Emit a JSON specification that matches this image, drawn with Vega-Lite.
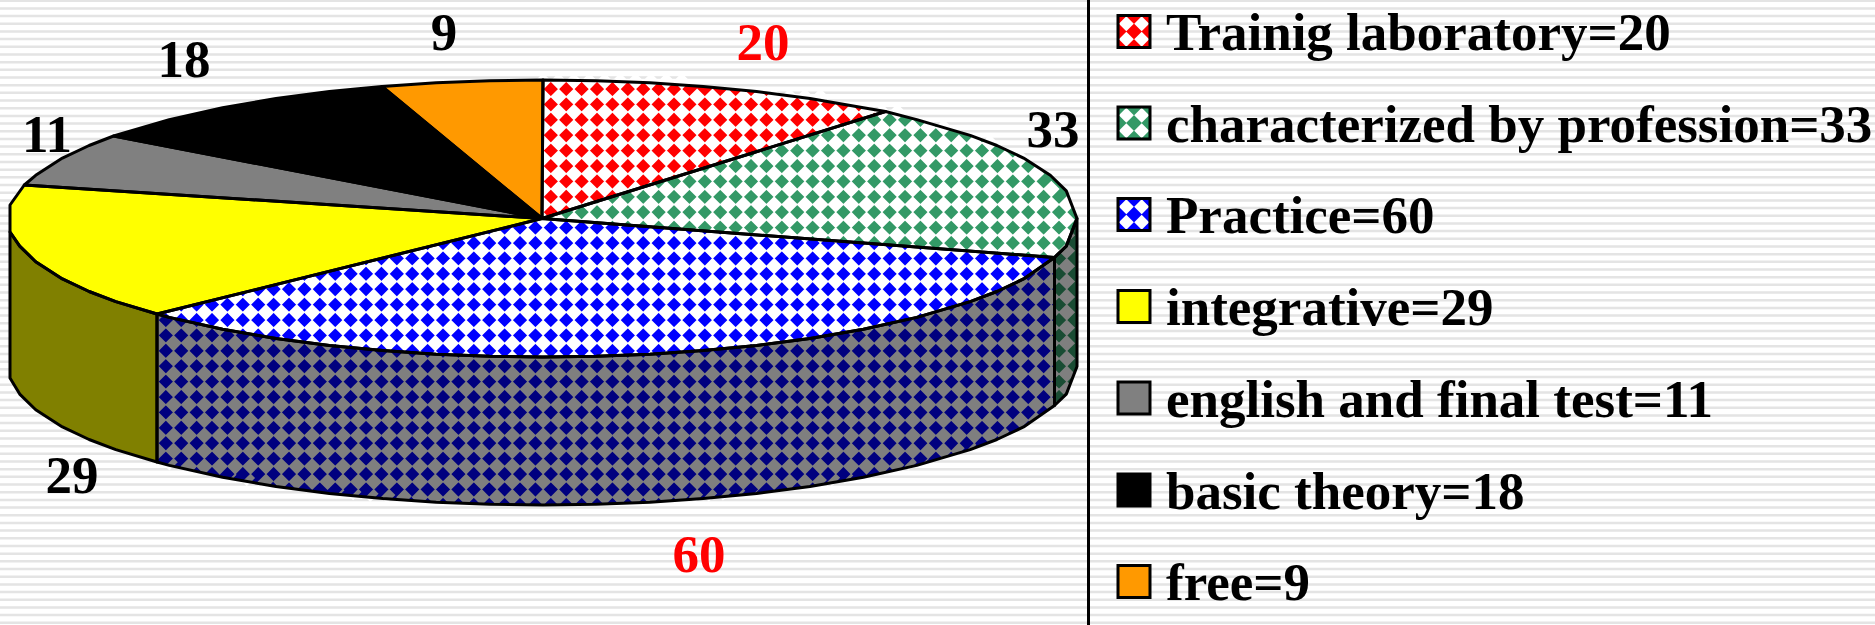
{"$schema":"https://vega.github.io/schema/vega-lite/v6.json","width":1875,"height":625,"padding":0,"autosize":"none","background":"#ffffff","config":{"view":{"stroke":null}},
"datasets":{
"stripes":[{"x":937.5,"y":-0.55,"y2":625}],
"frame":[{"x":1088.5,"y":0,"y2":625}],
"poly":[
{"p":"blueside","i":0,"x":157,"y":314},{"p":"blueside","i":1,"x":169.2,"y":317.4},{"p":"blueside","i":2,"x":222.6,"y":329.3},{"p":"blueside","i":3,"x":276,"y":338.4},{"p":"blueside","i":4,"x":329.4,"y":345.4},{"p":"blueside","i":5,"x":382.8,"y":350.6},{"p":"blueside","i":6,"x":436.2,"y":354.2},{"p":"blueside","i":7,"x":489.6,"y":356.3},{"p":"blueside","i":8,"x":543,"y":357},{"p":"blueside","i":9,"x":596.4,"y":356.3},{"p":"blueside","i":10,"x":649.8,"y":354.2},{"p":"blueside","i":11,"x":703.2,"y":350.6},{"p":"blueside","i":12,"x":756.6,"y":345.4},{"p":"blueside","i":13,"x":810,"y":338.4},{"p":"blueside","i":14,"x":863.4,"y":329.3},{"p":"blueside","i":15,"x":916.8,"y":317.4},{"p":"blueside","i":16,"x":970.2,"y":301.6},{"p":"blueside","i":17,"x":996.9,"y":291.5},{"p":"blueside","i":18,"x":1023.6,"y":278.9},{"p":"blueside","i":19,"x":1054.5,"y":257.5},{"p":"blueside","i":20,"x":1054.5,"y":405.5},{"p":"blueside","i":21,"x":1023.6,"y":426.9},{"p":"blueside","i":22,"x":996.9,"y":439.5},{"p":"blueside","i":23,"x":970.2,"y":449.6},{"p":"blueside","i":24,"x":916.8,"y":465.4},{"p":"blueside","i":25,"x":863.4,"y":477.3},{"p":"blueside","i":26,"x":810,"y":486.4},{"p":"blueside","i":27,"x":756.6,"y":493.4},{"p":"blueside","i":28,"x":703.2,"y":498.6},{"p":"blueside","i":29,"x":649.8,"y":502.2},{"p":"blueside","i":30,"x":596.4,"y":504.3},{"p":"blueside","i":31,"x":543,"y":505},{"p":"blueside","i":32,"x":489.6,"y":504.3},{"p":"blueside","i":33,"x":436.2,"y":502.2},{"p":"blueside","i":34,"x":382.8,"y":498.6},{"p":"blueside","i":35,"x":329.4,"y":493.4},{"p":"blueside","i":36,"x":276,"y":486.4},{"p":"blueside","i":37,"x":222.6,"y":477.3},{"p":"blueside","i":38,"x":169.2,"y":465.4},{"p":"blueside","i":39,"x":157,"y":462},{"p":"blueside","i":40,"x":157,"y":314},
{"p":"greenside","i":0,"x":1054.5,"y":257.5},{"p":"greenside","i":1,"x":1066.3,"y":246.1},{"p":"greenside","i":2,"x":1077,"y":218.5},{"p":"greenside","i":3,"x":1077,"y":366.5},{"p":"greenside","i":4,"x":1066.3,"y":394.1},{"p":"greenside","i":5,"x":1054.5,"y":405.5},{"p":"greenside","i":6,"x":1054.5,"y":257.5},
{"p":"red","i":0,"x":542,"y":218.5},{"p":"red","i":1,"x":543,"y":80},{"p":"red","i":2,"x":596.4,"y":80.7},{"p":"red","i":3,"x":649.8,"y":82.8},{"p":"red","i":4,"x":703.2,"y":86.4},{"p":"red","i":5,"x":756.6,"y":91.6},{"p":"red","i":6,"x":810,"y":98.6},{"p":"red","i":7,"x":863.4,"y":107.7},{"p":"red","i":8,"x":885.5,"y":111.5},{"p":"red","i":9,"x":542,"y":218.5},
{"p":"green","i":0,"x":542,"y":218.5},{"p":"green","i":1,"x":885.5,"y":111.5},{"p":"green","i":2,"x":916.8,"y":119.6},{"p":"green","i":3,"x":970.2,"y":135.4},{"p":"green","i":4,"x":996.9,"y":145.5},{"p":"green","i":5,"x":1023.6,"y":158.1},{"p":"green","i":6,"x":1050.3,"y":175.3},{"p":"green","i":7,"x":1066.3,"y":190.9},{"p":"green","i":8,"x":1077,"y":218.5},{"p":"green","i":9,"x":1066.3,"y":246.1},{"p":"green","i":10,"x":1054.5,"y":257.5},{"p":"green","i":11,"x":542,"y":218.5},
{"p":"blue","i":0,"x":542,"y":218.5},{"p":"blue","i":1,"x":1054.5,"y":257.5},{"p":"blue","i":2,"x":1023.6,"y":278.9},{"p":"blue","i":3,"x":996.9,"y":291.5},{"p":"blue","i":4,"x":970.2,"y":301.6},{"p":"blue","i":5,"x":916.8,"y":317.4},{"p":"blue","i":6,"x":863.4,"y":329.3},{"p":"blue","i":7,"x":810,"y":338.4},{"p":"blue","i":8,"x":756.6,"y":345.4},{"p":"blue","i":9,"x":703.2,"y":350.6},{"p":"blue","i":10,"x":649.8,"y":354.2},{"p":"blue","i":11,"x":596.4,"y":356.3},{"p":"blue","i":12,"x":543,"y":357},{"p":"blue","i":13,"x":489.6,"y":356.3},{"p":"blue","i":14,"x":436.2,"y":354.2},{"p":"blue","i":15,"x":382.8,"y":350.6},{"p":"blue","i":16,"x":329.4,"y":345.4},{"p":"blue","i":17,"x":276,"y":338.4},{"p":"blue","i":18,"x":222.6,"y":329.3},{"p":"blue","i":19,"x":169.2,"y":317.4},{"p":"blue","i":20,"x":157,"y":314},{"p":"blue","i":21,"x":542,"y":218.5},
{"p":"olive","i":0,"x":157,"y":314},{"p":"olive","i":1,"x":115.8,"y":301.6},{"p":"olive","i":2,"x":89.1,"y":291.5},{"p":"olive","i":3,"x":62.4,"y":278.9},{"p":"olive","i":4,"x":35.7,"y":261.7},{"p":"olive","i":5,"x":19.7,"y":246.1},{"p":"olive","i":6,"x":10,"y":232},{"p":"olive","i":7,"x":10,"y":378},{"p":"olive","i":8,"x":19.7,"y":394.1},{"p":"olive","i":9,"x":35.7,"y":409.7},{"p":"olive","i":10,"x":62.4,"y":426.9},{"p":"olive","i":11,"x":89.1,"y":439.5},{"p":"olive","i":12,"x":115.8,"y":449.6},{"p":"olive","i":13,"x":157,"y":462},{"p":"olive","i":14,"x":157,"y":314},
{"p":"yellow","i":0,"x":542,"y":218.5},{"p":"yellow","i":1,"x":157,"y":314},{"p":"yellow","i":2,"x":115.8,"y":301.6},{"p":"yellow","i":3,"x":89.1,"y":291.5},{"p":"yellow","i":4,"x":62.4,"y":278.9},{"p":"yellow","i":5,"x":35.7,"y":261.7},{"p":"yellow","i":6,"x":19.7,"y":246.1},{"p":"yellow","i":7,"x":10,"y":232},{"p":"yellow","i":8,"x":10,"y":205},{"p":"yellow","i":9,"x":24.3,"y":185},{"p":"yellow","i":10,"x":542,"y":218.5},
{"p":"gray","i":0,"x":542,"y":218.5},{"p":"gray","i":1,"x":24.3,"y":185},{"p":"gray","i":2,"x":35.7,"y":175.3},{"p":"gray","i":3,"x":62.4,"y":158.1},{"p":"gray","i":4,"x":89.1,"y":145.5},{"p":"gray","i":5,"x":113.6,"y":136},{"p":"gray","i":6,"x":542,"y":218.5},
{"p":"black","i":0,"x":542,"y":218.5},{"p":"black","i":1,"x":113.6,"y":136},{"p":"black","i":2,"x":169.2,"y":119.6},{"p":"black","i":3,"x":222.6,"y":107.7},{"p":"black","i":4,"x":276,"y":98.6},{"p":"black","i":5,"x":329.4,"y":91.6},{"p":"black","i":6,"x":382,"y":86.4},{"p":"black","i":7,"x":542,"y":218.5},
{"p":"orange","i":0,"x":542,"y":218.5},{"p":"orange","i":1,"x":382,"y":86.4},{"p":"orange","i":2,"x":436.2,"y":82.8},{"p":"orange","i":3,"x":489.6,"y":80.7},{"p":"orange","i":4,"x":543,"y":80},{"p":"orange","i":5,"x":542,"y":218.5}
],
"lattice":[
{"x":153.95,"y":446.75,"x2":173.6,"y2":466.4},{"x":153.95,"y":431.35,"x2":193.4,"y2":470.8},{"x":153.95,"y":415.95,"x2":213.2,"y2":475.2},{"x":153.95,"y":400.55,"x2":232.4,"y2":479},{"x":153.95,"y":385.15,"x2":250.9,"y2":482.1},{"x":153.95,"y":369.75,"x2":269.5,"y2":485.3},{"x":153.95,"y":354.35,"x2":287.5,"y2":487.9},{"x":153.95,"y":338.95,"x2":305.2,"y2":490.2},{"x":153.95,"y":323.55,"x2":323,"y2":492.6},{"x":153.95,"y":308.15,"x2":340.3,"y2":494.5},
{"x":169.35,"y":308.15,"x2":357.3,"y2":496.1},{"x":169.35,"y":292.75,"x2":374.4,"y2":497.8},{"x":184.75,"y":292.75,"x2":391.2,"y2":499.2},{"x":200.15,"y":292.75,"x2":407.7,"y2":500.3},{"x":215.55,"y":292.75,"x2":424.2,"y2":501.4},{"x":230.95,"y":292.75,"x2":440.6,"y2":502.4},{"x":230.95,"y":277.35,"x2":456.6,"y2":503},{"x":246.35,"y":277.35,"x2":472.6,"y2":503.6},{"x":261.75,"y":277.35,"x2":488.7,"y2":504.3},{"x":277.15,"y":277.35,"x2":504.3,"y2":504.5},
{"x":292.55,"y":277.35,"x2":519.9,"y2":504.7},{"x":292.55,"y":261.95,"x2":535.5,"y2":504.9},{"x":307.95,"y":261.95,"x2":550.9,"y2":504.9},{"x":323.35,"y":261.95,"x2":566.1,"y2":504.7},{"x":338.75,"y":261.95,"x2":581.3,"y2":504.5},{"x":354.15,"y":261.95,"x2":596.5,"y2":504.3},{"x":354.15,"y":246.55,"x2":611.3,"y2":503.7},{"x":369.55,"y":246.55,"x2":626.2,"y2":503.2},{"x":384.95,"y":246.55,"x2":641,"y2":502.6},{"x":400.35,"y":246.55,"x2":655.6,"y2":501.8},
{"x":415.75,"y":246.55,"x2":670,"y2":500.8},{"x":415.75,"y":231.15,"x2":684.5,"y2":499.9},{"x":431.15,"y":231.15,"x2":698.9,"y2":498.9},{"x":446.55,"y":231.15,"x2":713,"y2":497.6},{"x":461.95,"y":231.15,"x2":727.1,"y2":496.3},{"x":477.35,"y":231.15,"x2":741.1,"y2":494.9},{"x":477.35,"y":215.75,"x2":755.1,"y2":493.5},{"x":492.75,"y":215.75,"x2":768.8,"y2":491.8},{"x":508.15,"y":215.75,"x2":782.4,"y2":490},{"x":523.55,"y":215.75,"x2":796,"y2":488.2},
{"x":538.95,"y":215.75,"x2":809.6,"y2":486.4},{"x":538.95,"y":200.35,"x2":822.8,"y2":484.2},{"x":538.95,"y":184.95,"x2":836,"y2":482},{"x":538.95,"y":169.55,"x2":849.1,"y2":479.7},{"x":538.95,"y":154.15,"x2":862.3,"y2":477.5},{"x":538.95,"y":138.75,"x2":874.9,"y2":474.7},{"x":538.95,"y":123.35,"x2":887.5,"y2":471.9},{"x":538.95,"y":107.95,"x2":900.1,"y2":469.1},{"x":538.95,"y":92.55,"x2":912.7,"y2":466.3},{"x":538.95,"y":77.15,"x2":924.8,"y2":463},
{"x":554.35,"y":77.15,"x2":936.7,"y2":459.5},{"x":569.75,"y":77.15,"x2":948.6,"y2":456},{"x":585.15,"y":77.15,"x2":960.5,"y2":452.5},{"x":600.55,"y":77.15,"x2":972.2,"y2":448.8},{"x":615.95,"y":77.15,"x2":983.4,"y2":444.6},{"x":631.35,"y":77.15,"x2":994.6,"y2":440.4},{"x":646.75,"y":77.15,"x2":1005.2,"y2":435.6},{"x":662.15,"y":77.15,"x2":1015.7,"y2":430.7},{"x":677.55,"y":77.15,"x2":1025.8,"y2":425.4},
{"x":708.35,"y":92.55,"x2":1035.2,"y2":419.4},{"x":723.75,"y":92.55,"x2":1044.6,"y2":413.4},{"x":739.15,"y":92.55,"x2":1053.3,"y2":406.7},{"x":754.55,"y":92.55,"x2":1061.1,"y2":399.1},{"x":769.95,"y":92.55,"x2":1067.8,"y2":390.4},{"x":785.35,"y":92.55,"x2":1072.1,"y2":379.3},{"x":800.75,"y":92.55,"x2":1076.4,"y2":368.2},{"x":816.15,"y":92.55,"x2":1077,"y2":353.4},
{"x":846.95,"y":107.95,"x2":1077,"y2":338},{"x":862.35,"y":107.95,"x2":1077,"y2":322.6},{"x":877.75,"y":107.95,"x2":1077,"y2":307.2},{"x":893.15,"y":107.95,"x2":1077,"y2":291.8},{"x":923.95,"y":123.35,"x2":1077,"y2":276.4},{"x":939.35,"y":123.35,"x2":1077,"y2":261},{"x":970.15,"y":138.75,"x2":1077,"y2":245.6},{"x":985.55,"y":138.75,"x2":1077,"y2":230.2},{"x":1016.35,"y":154.15,"x2":1077,"y2":214.8}
],
"swatches":[
{"p":"red","x":1134,"y":31.5},{"p":"green","x":1134,"y":123},{"p":"blue","x":1134,"y":214.5},{"p":"yellow","x":1134,"y":306.5},{"p":"gray","x":1134,"y":398},{"p":"black","x":1134,"y":490},{"p":"orange","x":1134,"y":581.5}
],
"swatchDots":[
{"x":1126.3,"y":23.8},{"x":1141.7,"y":23.8},{"x":1126.3,"y":39.2},{"x":1141.7,"y":39.2},
{"x":1126.3,"y":115.3},{"x":1141.7,"y":115.3},{"x":1126.3,"y":130.7},{"x":1141.7,"y":130.7},
{"x":1126.3,"y":206.8},{"x":1141.7,"y":206.8},{"x":1126.3,"y":222.2},{"x":1141.7,"y":222.2}
],
"labels":[
{"t":"20","x":763,"y":60,"kind":"highlight"},{"t":"33","x":1053,"y":146.7,"kind":"plain"},{"t":"60","x":699,"y":571.7,"kind":"highlight"},{"t":"29","x":72,"y":493,"kind":"plain"},{"t":"11","x":47,"y":152,"kind":"plain"},{"t":"18","x":184,"y":77,"kind":"plain"},{"t":"9","x":444,"y":50,"kind":"plain"}
],
"legend":[
{"t":"Trainig laboratory=20","x":1166,"y":50},{"t":"characterized by profession=33","x":1166,"y":141.7},{"t":"Practice=60","x":1166,"y":233.4},{"t":"integrative=29","x":1166,"y":325.1},{"t":"english and final test=11","x":1166,"y":416.8},{"t":"basic theory=18","x":1166,"y":508.5},{"t":"free=9","x":1166,"y":600.2}
]
},
"encoding":{
"x":{"field":"x","type":"quantitative","scale":{"domain":[0,1875],"nice":false,"zero":false},"axis":null},
"y":{"field":"y","type":"quantitative","scale":{"domain":[0,625],"reverse":true,"nice":false,"zero":false},"axis":null}
},
"layer":[
{"data":{"name":"stripes"},"mark":{"type":"rule","stroke":"#e4e4e4","strokeWidth":1875,"strokeDash":[2.5,5.18]},"encoding":{"y2":{"field":"y2"}}},
{"data":{"name":"poly"},"transform":[{"filter":{"field":"p","oneOf":["blueside","greenside","red","green","blue"]}}],"mark":{"type":"line","strokeWidth":0},"encoding":{"detail":{"field":"p"},"order":{"field":"i","type":"quantitative"},"fill":{"field":"p","type":"nominal","legend":null,"scale":{"domain":["blueside","greenside","red","green","blue","olive","yellow","gray","black","orange"],"range":["#0000ff","#339966","#ff0000","#339966","#0000ff","#808000","#ffff00","#808080","#000000","#ff9900"]}}}},
{"data":{"name":"lattice"},"mark":{"type":"rule","stroke":"#ffffff","strokeWidth":11.8,"strokeDash":[11.8,9.98]},"encoding":{"x2":{"field":"x2"},"y2":{"field":"y2"}}},
{"data":{"name":"poly"},"transform":[{"filter":{"field":"p","oneOf":["olive","yellow","gray","black","orange"]}}],"mark":{"type":"line","strokeWidth":0},"encoding":{"detail":{"field":"p"},"order":{"field":"i","type":"quantitative"},"fill":{"field":"p","type":"nominal","legend":null,"scale":{"domain":["blueside","greenside","red","green","blue","olive","yellow","gray","black","orange"],"range":["#0000ff","#339966","#ff0000","#339966","#0000ff","#808000","#ffff00","#808080","#000000","#ff9900"]}}}},
{"data":{"name":"poly"},"transform":[{"filter":{"field":"p","oneOf":["blueside","greenside"]}}],"mark":{"type":"line","strokeWidth":0,"fill":"#000000","fillOpacity":0.5},"encoding":{"detail":{"field":"p"},"order":{"field":"i","type":"quantitative"}}},
{"data":{"name":"poly"},"mark":{"type":"line","stroke":"#000000","strokeWidth":3,"strokeJoin":"round"},"encoding":{"detail":{"field":"p"},"order":{"field":"i","type":"quantitative"}}},
{"data":{"name":"frame"},"mark":{"type":"rule","stroke":"#000000","strokeWidth":3},"encoding":{"y2":{"field":"y2"}}},
{"data":{"name":"swatches"},"mark":{"type":"point","shape":"square","filled":true,"size":1024,"opacity":1},"encoding":{"fill":{"field":"p","type":"nominal","legend":null,"scale":{"domain":["blueside","greenside","red","green","blue","olive","yellow","gray","black","orange"],"range":["#0000ff","#339966","#ff0000","#339966","#0000ff","#808000","#ffff00","#808080","#000000","#ff9900"]}}}},
{"data":{"name":"swatchDots"},"mark":{"type":"point","shape":"diamond","filled":true,"size":225,"color":"#ffffff","opacity":1}},
{"data":{"name":"swatches"},"mark":{"type":"point","shape":"square","filled":false,"size":1024,"stroke":"#000000","strokeWidth":3,"opacity":1}},
{"data":{"name":"labels"},"mark":{"type":"text","font":"Liberation Serif","fontWeight":"bold","fontSize":53,"align":"center","baseline":"alphabetic"},"encoding":{"text":{"field":"t"},"color":{"field":"kind","type":"nominal","legend":null,"scale":{"domain":["highlight","plain"],"range":["#ff0000","#000000"]}}}},
{"data":{"name":"legend"},"mark":{"type":"text","font":"Liberation Serif","fontWeight":"bold","fontSize":53,"align":"left","baseline":"alphabetic","color":"#000000"},"encoding":{"text":{"field":"t"}}}
]}
